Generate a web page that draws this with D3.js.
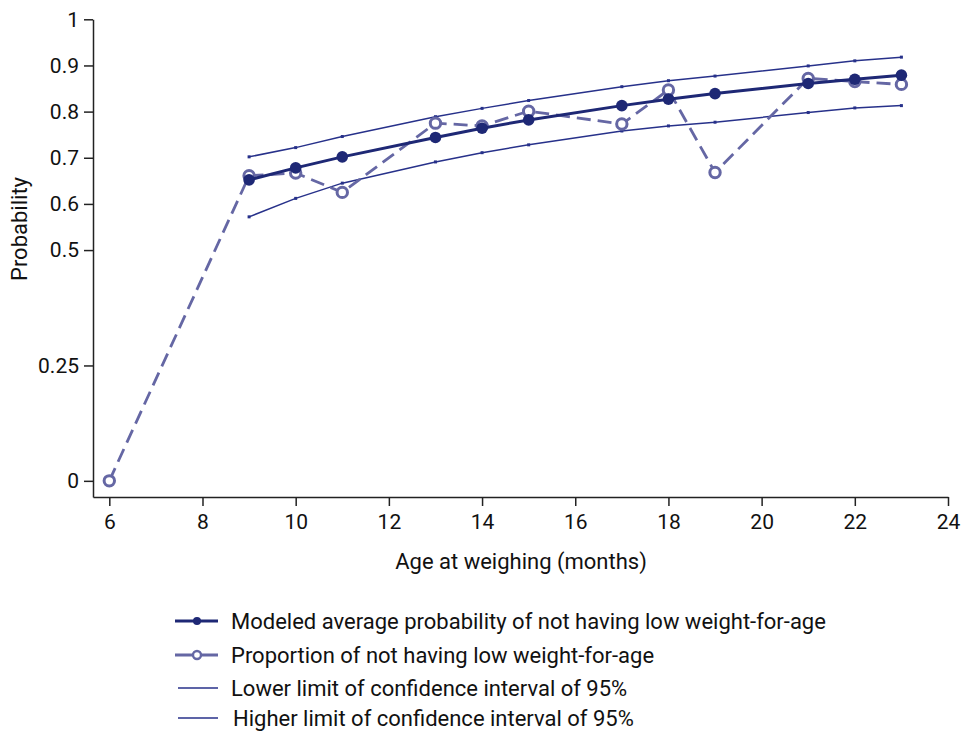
<!DOCTYPE html>
<html>
<head>
<meta charset="utf-8">
<script src="https://cdn.jsdelivr.net/npm/d3@7"></script>
<style>
  body { margin: 0; background: #fff; }
  text { font-family: "Roboto", sans-serif; fill: #111; }
  .axis text { font-size: 21px; }
  .axis path, .axis line { stroke: #222; stroke-width: 1.5; }
  .axis-title { font-size: 22px; }
  .legend text { font-size: 22px; }
</style>
</head>
<body>
<svg id="chart" width="962" height="733"></svg>
<script>
const width = 962;
const height = 733;

/* DATA */
const modelAges = [9, 10, 11, 13, 14, 15, 17, 18, 19, 21, 22, 23];
const modeled = [0.652, 0.678, 0.702, 0.744, 0.764, 0.782, 0.813, 0.827, 0.839, 0.861, 0.870, 0.879];
const upperCI = [0.702, 0.722, 0.746, 0.789, 0.807, 0.824, 0.854, 0.867, 0.877, 0.899, 0.910, 0.918];
const lowerCI = [0.572, 0.612, 0.645, 0.691, 0.711, 0.728, 0.758, 0.769, 0.777, 0.798, 0.808, 0.813];

const obsAges = [6, 9, 10, 11, 13, 14, 15, 17, 18, 19, 21, 22, 23];
const observed = [0, 0.661, 0.667, 0.625, 0.775, 0.769, 0.801, 0.773, 0.847, 0.668, 0.872, 0.865, 0.859];

const xTicks = [6, 8, 10, 12, 14, 16, 18, 20, 22, 24];
const yTicks = [0, 0.25, 0.5, 0.6, 0.7, 0.8, 0.9, 1];

const legendLabels = [
  "Modeled average probability of not having low weight-for-age",
  "Proportion of not having low weight-for-age",
  "Lower limit of confidence interval of 95%",
  "Higher limit of confidence interval of 95%"
];

const colors = {
  model: "#1e2875",
  obs: "#6567a4",
  ci: "#27318a"
};

const svg = d3.select("svg#chart");

/* SCALES */
const x = d3.scaleLinear().domain([5.65, 24]).range([93, 948]);
const y = d3.scaleLinear().domain([-0.035, 1]).range([497, 19.3]);

/* AXES */
const xAxis = d3.axisBottom(x).tickValues(xTicks).tickSize(9).tickSizeOuter(0).tickPadding(8);
const yAxis = d3.axisLeft(y).tickValues(yTicks).tickSize(9).tickSizeOuter(0).tickPadding(5)
  .tickFormat(d => d === 0.25 ? "0.25" : d3.format("")(d));

svg.append("g").attr("class", "axis").attr("transform", "translate(0,497)").call(xAxis);
svg.append("g").attr("class", "axis").attr("transform", "translate(93,0)").call(yAxis);

svg.append("text").attr("class", "axis-title")
  .attr("x", 521).attr("y", 569).attr("text-anchor", "middle")
  .text("Age at weighing (months)");

svg.append("text").attr("class", "axis-title")
  .attr("transform", "translate(27,229) rotate(-90)")
  .attr("text-anchor", "middle")
  .text("Probability");

/* LINES */
const modelRows = modelAges.map((a, i) => ({ age: a, m: modeled[i], hi: upperCI[i], lo: lowerCI[i] }));
const obsRows = obsAges.map((a, i) => ({ age: a, v: observed[i] }));

const plot = svg.append("g");

["hi", "lo"].forEach(key => {
  plot.append("path")
    .datum(modelRows)
    .attr("fill", "none")
    .attr("stroke", colors.ci)
    .attr("stroke-width", 1.5)
    .attr("d", d3.line().x(d => x(d.age)).y(d => y(d[key])));
  plot.selectAll(null)
    .data(modelRows)
    .enter().append("rect")
    .attr("x", d => x(d.age) - 1.5)
    .attr("y", d => y(d[key]) - 1.5)
    .attr("width", 3).attr("height", 3)
    .attr("fill", colors.ci);
});

plot.append("path")
  .datum(obsRows)
  .attr("fill", "none")
  .attr("stroke", colors.obs)
  .attr("stroke-width", 2.8)
  .attr("stroke-dasharray", "14,7")
  .attr("d", d3.line().x(d => x(d.age)).y(d => y(d.v)));

plot.selectAll("circle.obs")
  .data(obsRows)
  .enter().append("circle")
  .attr("class", "obs")
  .attr("cx", d => x(d.age))
  .attr("cy", d => y(d.v))
  .attr("r", 5.2)
  .attr("fill", "#fff")
  .attr("stroke", colors.obs)
  .attr("stroke-width", 3);

plot.append("path")
  .datum(modelRows)
  .attr("fill", "none")
  .attr("stroke", colors.model)
  .attr("stroke-width", 3)
  .attr("d", d3.line().x(d => x(d.age)).y(d => y(d.m)));

plot.selectAll("circle.model")
  .data(modelRows)
  .enter().append("circle")
  .attr("class", "model")
  .attr("cx", d => x(d.age))
  .attr("cy", d => y(d.m))
  .attr("r", 5.8)
  .attr("fill", colors.model);

/* LEGEND */
const legend = svg.append("g").attr("class", "legend");
const rowY = [621, 655, 688, 718];

legend.append("line").attr("x1", 175).attr("x2", 218).attr("y1", rowY[0]).attr("y2", rowY[0])
  .attr("stroke", colors.model).attr("stroke-width", 3);
legend.append("circle").attr("cx", 197).attr("cy", rowY[0]).attr("r", 4).attr("fill", colors.model);

legend.append("line").attr("x1", 175).attr("x2", 218).attr("y1", rowY[1]).attr("y2", rowY[1])
  .attr("stroke", colors.obs).attr("stroke-width", 2.8);
legend.append("circle").attr("cx", 197).attr("cy", rowY[1]).attr("r", 4).attr("fill", "#fff")
  .attr("stroke", colors.obs).attr("stroke-width", 2.4);

legend.append("line").attr("x1", 178).attr("x2", 218).attr("y1", rowY[2]).attr("y2", rowY[2])
  .attr("stroke", colors.ci).attr("stroke-width", 1.5);
legend.append("line").attr("x1", 178).attr("x2", 218).attr("y1", rowY[3]).attr("y2", rowY[3])
  .attr("stroke", colors.ci).attr("stroke-width", 1.5);

legend.selectAll("text")
  .data(legendLabels)
  .enter().append("text")
  .attr("x", (d, i) => i === 3 ? 233 : 231)
  .attr("y", (d, i) => rowY[i])
  .attr("dy", "0.35em")
  .text(d => d);
</script>
</body>
</html>
